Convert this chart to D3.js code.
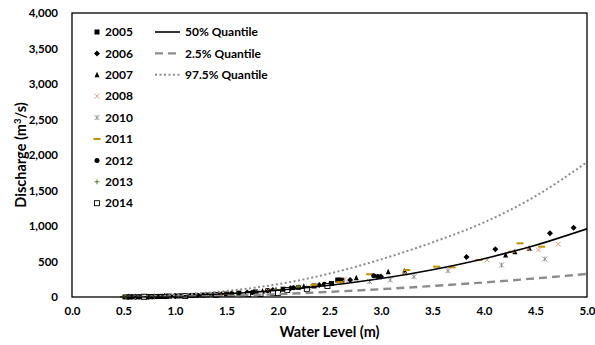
<!DOCTYPE html>
<html>
<head>
<meta charset="utf-8">
<script src="https://cdn.jsdelivr.net/npm/d3@7"></script>
<style>
  body { margin: 0; background: #fff; }
  svg text { font-family: Lato, "Open Sans", sans-serif; font-weight: bold; }
</style>
</head>
<body>
<div id="chart"></div>
<script>
// observed [water level (m), discharge (m3/s)] per year
const y2005 = [[0.52,1],[0.56,2],[0.6,2],[0.63,3],[0.67,3],[0.7,4],[0.73,4],[0.76,5],[0.79,6],[0.82,7],[0.85,8],[0.88,9],[0.92,10],[0.95,12],[1.02,14],[1.06,16],[1.1,18],[1.18,22],[1.27,26],[1.38,33],[1.5,42],[1.62,55],[1.78,72],[1.9,90],[2.05,110],[2.2,135],[2.35,155],[2.52,190],[2.58,240],[2.62,238]];
const y2006 = [[0.55,2],[0.62,3],[0.68,4],[0.74,5],[0.8,7],[0.9,10],[1.0,14],[1.12,19],[1.3,30],[1.45,40],[1.7,65],[1.95,100],[2.12,125],[2.4,170],[2.7,240],[3.0,290],[3.83,563],[4.11,672],[4.64,897],[4.87,976]];
const y2007 = [[0.55,2],[0.72,4],[0.9,10],[1.2,24],[1.55,50],[1.85,85],[1.98,100],[2.25,150],[2.5,190],[2.76,272],[3.07,357],[3.23,366],[4.21,592],[4.3,638],[4.44,686]];
const y2008 = [[0.7,5],[1.05,16],[1.45,40],[1.9,90],[2.2,140],[2.65,249],[3.23,333],[4.03,521],[4.43,676],[4.53,662],[4.72,742]];
const y2010 = [[0.6,2],[0.95,10],[1.35,30],[1.8,70],[2.3,130],[2.89,216],[3.09,240],[3.32,286],[3.65,370],[4.17,450],[4.59,535]];
const y2011 = [[0.5,1],[0.75,5],[1.15,20],[1.5,45],[2.0,100],[2.18,125],[2.35,170],[2.6,210],[2.89,320],[3.25,380],[3.54,427],[3.69,418],[3.95,521],[4.27,638],[4.35,756],[4.56,709]];
const y2012 = [[0.58,2],[0.65,3],[0.72,4],[0.78,5],[0.85,8],[0.92,10],[1.0,13],[1.08,17],[1.15,20],[1.22,24],[1.32,29],[1.4,35],[1.55,48],[1.75,65],[2.15,130],[2.45,180],[2.93,300],[2.97,290]];
const y2013 = [[0.49,1],[0.52,2],[0.8,6],[1.2,22],[1.33,30],[1.6,55],[1.98,105],[2.2,140]];
const y2014 = [[0.7,4],[1.1,15],[1.4,30],[1.71,42],[1.83,42],[1.95,56],[2.0,56],[2.09,98],[2.28,113],[2.48,155]];

// quantile rating curves
const curveLevels = [0.5, 1.0, 1.5, 2.0, 2.5, 3.0, 3.5, 4.0, 4.5, 5.0];
const q50  = [2, 15, 45, 95, 165, 260, 385, 540, 730, 960];
const q025 = [0, 5, 15, 40, 72, 110, 155, 205, 262, 325];
const q975 = [3, 25, 85, 180, 330, 530, 770, 1050, 1420, 1900];

const xTicks = [0, 0.5, 1, 1.5, 2, 2.5, 3, 3.5, 4, 4.5, 5];
const yTicks = [0, 500, 1000, 1500, 2000, 2500, 3000, 3500, 4000];

const series = [
  { name: '2005', data: y2005, sym: 'square', fill: '#000', stroke: 'none' },
  { name: '2006', data: y2006, sym: 'diamond', fill: '#000', stroke: 'none' },
  { name: '2007', data: y2007, sym: 'triangle', fill: '#000', stroke: 'none' },
  { name: '2008', data: y2008, sym: 'x', fill: 'none', stroke: '#e0a080' },
  { name: '2010', data: y2010, sym: 'star', fill: 'none', stroke: '#8c8c8c' },
  { name: '2011', data: y2011, sym: 'dash', fill: 'none', stroke: '#bf9000' },
  { name: '2012', data: y2012, sym: 'circle', fill: '#000', stroke: 'none' },
  { name: '2013', data: y2013, sym: 'plus', fill: 'none', stroke: '#548235' },
  { name: '2014', data: y2014, sym: 'open', fill: '#fff', stroke: '#000' }
];

const width = 595, height = 345;
const margin = { top: 13, right: 8, bottom: 48, left: 72 };

const svg = d3.select('#chart').append('svg')
  .attr('width', width)
  .attr('height', height);

const x = d3.scaleLinear().domain([0, 5]).range([margin.left, width - margin.right]);
const y = d3.scaleLinear().domain([0, 4000]).range([height - margin.bottom, margin.top]);

// axes labels
svg.append('g')
  .attr('transform', `translate(0,${height - margin.bottom})`)
  .call(d3.axisBottom(x).tickValues(xTicks).tickFormat(d3.format('.1f')).tickSize(0).tickPadding(10))
  .call(g => g.select('.domain').remove())
  .selectAll('text')
  .attr('font-size', '11.5px')
  .attr('fill', '#000');

svg.append('g')
  .attr('transform', `translate(${margin.left},0)`)
  .call(d3.axisLeft(y).tickValues(yTicks).tickFormat(d3.format(',')).tickSize(0).tickPadding(14))
  .call(g => g.select('.domain').remove())
  .selectAll('text')
  .attr('font-size', '11.5px')
  .attr('fill', '#000');

svg.append('text')
  .attr('x', (margin.left + width - margin.right) / 2)
  .attr('y', 337)
  .attr('text-anchor', 'middle')
  .attr('font-size', '14.5px')
  .text('Water Level (m)');

const yt = svg.append('text')
  .attr('transform', `translate(26,${(margin.top + height - margin.bottom) / 2}) rotate(-90)`)
  .attr('text-anchor', 'middle')
  .attr('font-size', '14.5px');
yt.append('tspan').text('Discharge (m');
yt.append('tspan').attr('font-size', '9.5px').attr('dy', '-5').text('3');
yt.append('tspan').attr('dy', '5').text('/s)');

// quantile curves
const line = d3.line().x(d => x(d[0])).y(d => y(d[1])).curve(d3.curveMonotoneX);
const quantiles = [
  { name: '50% Quantile', vals: q50, stroke: '#000', w: 1.6, dash: null },
  { name: '2.5% Quantile', vals: q025, stroke: '#8c8c8c', w: 2.4, dash: '8,5' },
  { name: '97.5% Quantile', vals: q975, stroke: '#8c8c8c', w: 2, dash: '2,2.5' }
];

function drawMarker(g, sym, cx, cy, s) {
  const r = s / 2;
  if (sym === 'square') {
    g.append('rect').attr('x', cx - r).attr('y', cy - r).attr('width', s).attr('height', s);
  } else if (sym === 'open') {
    g.append('rect').attr('x', cx - r).attr('y', cy - r).attr('width', s).attr('height', s).attr('stroke-width', 0.9);
  } else if (sym === 'diamond') {
    const d = r * 1.2;
    g.append('path').attr('d', `M${cx},${cy - d}L${cx + d},${cy}L${cx},${cy + d}L${cx - d},${cy}Z`);
  } else if (sym === 'triangle') {
    g.append('path').attr('d', `M${cx},${cy - r - 0.5}L${cx + r},${cy + r}L${cx - r},${cy + r}Z`);
  } else if (sym === 'circle') {
    g.append('circle').attr('cx', cx).attr('cy', cy).attr('r', r);
  } else if (sym === 'x') {
    g.append('path').attr('d', `M${cx - r},${cy - r}L${cx + r},${cy + r}M${cx - r},${cy + r}L${cx + r},${cy - r}`).attr('stroke-width', 1);
  } else if (sym === 'star') {
    g.append('path').attr('d', `M${cx - r},${cy - r}L${cx + r},${cy + r}M${cx - r},${cy + r}L${cx + r},${cy - r}M${cx},${cy - r}L${cx},${cy + r}`).attr('stroke-width', 0.9);
  } else if (sym === 'dash') {
    g.append('path').attr('d', `M${cx - r - 1},${cy}L${cx + r + 1},${cy}`).attr('stroke-width', 2);
  } else if (sym === 'plus') {
    g.append('path').attr('d', `M${cx - r},${cy}L${cx + r},${cy}M${cx},${cy - r}L${cx},${cy + r}`).attr('stroke-width', 1);
  }
}

const plot = svg.append('g');
const clipId = 'plotclip';
svg.append('clipPath').attr('id', clipId)
  .append('rect')
  .attr('x', margin.left).attr('y', margin.top)
  .attr('width', width - margin.left - margin.right)
  .attr('height', height - margin.top - margin.bottom);

series.forEach(s => {
  const g = plot.append('g').attr('fill', s.fill).attr('stroke', s.stroke);
  s.data.forEach(d => drawMarker(g, s.sym, x(d[0]), y(d[1]), 5));
});

quantiles.forEach(q => {
  svg.append('path')
    .datum(curveLevels.map((h, i) => [h, q.vals[i]]))
    .attr('clip-path', `url(#${clipId})`)
    .attr('fill', 'none')
    .attr('stroke', q.stroke)
    .attr('stroke-width', q.w)
    .attr('stroke-dasharray', q.dash)
    .attr('d', line);
});

// frame
svg.append('rect')
  .attr('x', margin.left).attr('y', margin.top)
  .attr('width', width - margin.left - margin.right)
  .attr('height', height - margin.top - margin.bottom)
  .attr('fill', 'none')
  .attr('stroke', '#000')
  .attr('stroke-width', 1.3);

// legend: years
const leg = svg.append('g');
series.forEach((s, i) => {
  const cy = 32 + i * 21.4;
  const g = leg.append('g').attr('fill', s.fill).attr('stroke', s.stroke);
  drawMarker(g, s.sym, 97, cy, 5);
  leg.append('text')
    .attr('x', 105).attr('y', cy)
    .attr('dy', '0.35em')
    .attr('font-size', '12px')
    .text(s.name);
});

// legend: quantiles
quantiles.forEach((q, i) => {
  const cy = 32 + i * 21.4;
  leg.append('line')
    .attr('x1', 155).attr('x2', 180)
    .attr('y1', cy).attr('y2', cy)
    .attr('stroke', q.stroke)
    .attr('stroke-width', q.w)
    .attr('stroke-dasharray', q.dash);
  leg.append('text')
    .attr('x', 185).attr('y', cy)
    .attr('dy', '0.35em')
    .attr('font-size', '12px')
    .text(q.name);
});
</script>
</body>
</html>
